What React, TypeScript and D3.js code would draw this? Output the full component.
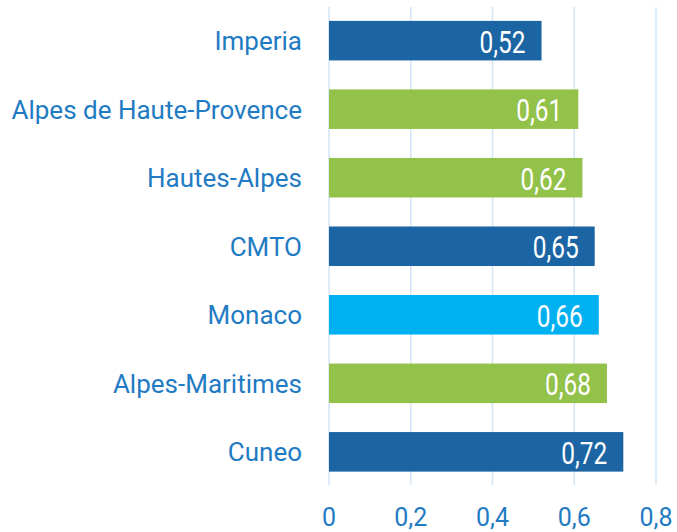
import React, { useEffect, useRef } from "react";
import * as d3 from "d3";

const categories = [
  "Imperia",
  "Alpes de Haute-Provence",
  "Hautes-Alpes",
  "CMTO",
  "Monaco",
  "Alpes-Maritimes",
  "Cuneo",
];
const values = [0.52, 0.61, 0.62, 0.65, 0.66, 0.68, 0.72];
const groups = ["it", "fr", "fr", "it", "mc", "fr", "it"];
const ticks = [0, 0.2, 0.4, 0.6, 0.8];

const App = () => {
  const svgRef = useRef<SVGSVGElement>(null);

  useEffect(() => {
    const width = 677;
    const height = 532;
    const color: Record<string, string> = { it: "#1c65a4", fr: "#92c24a", mc: "#00b0f0" };
    const labelColor = "#1f7bc3";
    const fmt = (v: number) => d3.format(".2f")(v).replace(".", ",");
    const fmtTick = (v: number) => (v === 0 ? "0" : d3.format(".1f")(v).replace(".", ","));

    const x = d3.scaleLinear().domain([0, 0.8]).range([329, 656]);
    const y = d3
      .scaleBand()
      .domain(categories)
      .range([6.5, 486])
      .paddingInner(0.423)
      .paddingOuter(0.21);

    const svg = d3.select(svgRef.current).attr("width", width).attr("height", height);
    svg.selectAll("*").remove();

    // gridlines
    svg
      .append("g")
      .selectAll("line")
      .data(ticks)
      .join("line")
      .attr("x1", (d) => x(d))
      .attr("x2", (d) => x(d))
      .attr("y1", 7)
      .attr("y2", 485)
      .attr("stroke", "#d3e5f6")
      .attr("stroke-width", 1.5);

    const rows = categories.map((c, i) => ({ c, v: values[i], g: groups[i] }));

    svg
      .append("g")
      .selectAll("rect")
      .data(rows)
      .join("rect")
      .attr("x", x(0))
      .attr("y", (d) => y(d.c)!)
      .attr("width", (d) => x(d.v) - x(0))
      .attr("height", y.bandwidth())
      .attr("fill", (d) => color[d.g]);

    // value labels, condensed look
    svg
      .append("g")
      .selectAll("text")
      .data(rows)
      .join("text")
      .attr("x", (d) => x(d.v) - 16)
      .attr("y", (d) => y(d.c)! + y.bandwidth() / 2 + 12)
      .attr("text-anchor", "end")
      .attr("fill", "#fff")
      .attr("textLength", 46)
      .attr("lengthAdjust", "spacingAndGlyphs")
      .style("font-family", "Roboto, sans-serif")
      .style("font-size", "31px")
      .text((d) => fmt(d.v));

    svg
      .append("g")
      .selectAll("text")
      .data(rows)
      .join("text")
      .attr("x", 302)
      .attr("y", (d) => y(d.c)! + y.bandwidth() / 2 + 9.5)
      .attr("text-anchor", "end")
      .attr("fill", labelColor)
      .style("font-family", "Roboto, sans-serif")
      .style("font-size", "26px")
      .text((d) => d.c);

    svg
      .append("g")
      .selectAll("text")
      .data(ticks)
      .join("text")
      .attr("x", (d) => x(d))
      .attr("y", 526)
      .attr("text-anchor", "middle")
      .attr("fill", labelColor)
      .style("font-family", "Roboto, sans-serif")
      .style("font-size", "25px")
      .text((d) => fmtTick(d));
  }, []);

  return (
    <div style={{ position: "absolute", left: 0, top: 0 }}>
      <svg ref={svgRef} style={{ display: "block" }}></svg>
    </div>
  );
};

export default App;
